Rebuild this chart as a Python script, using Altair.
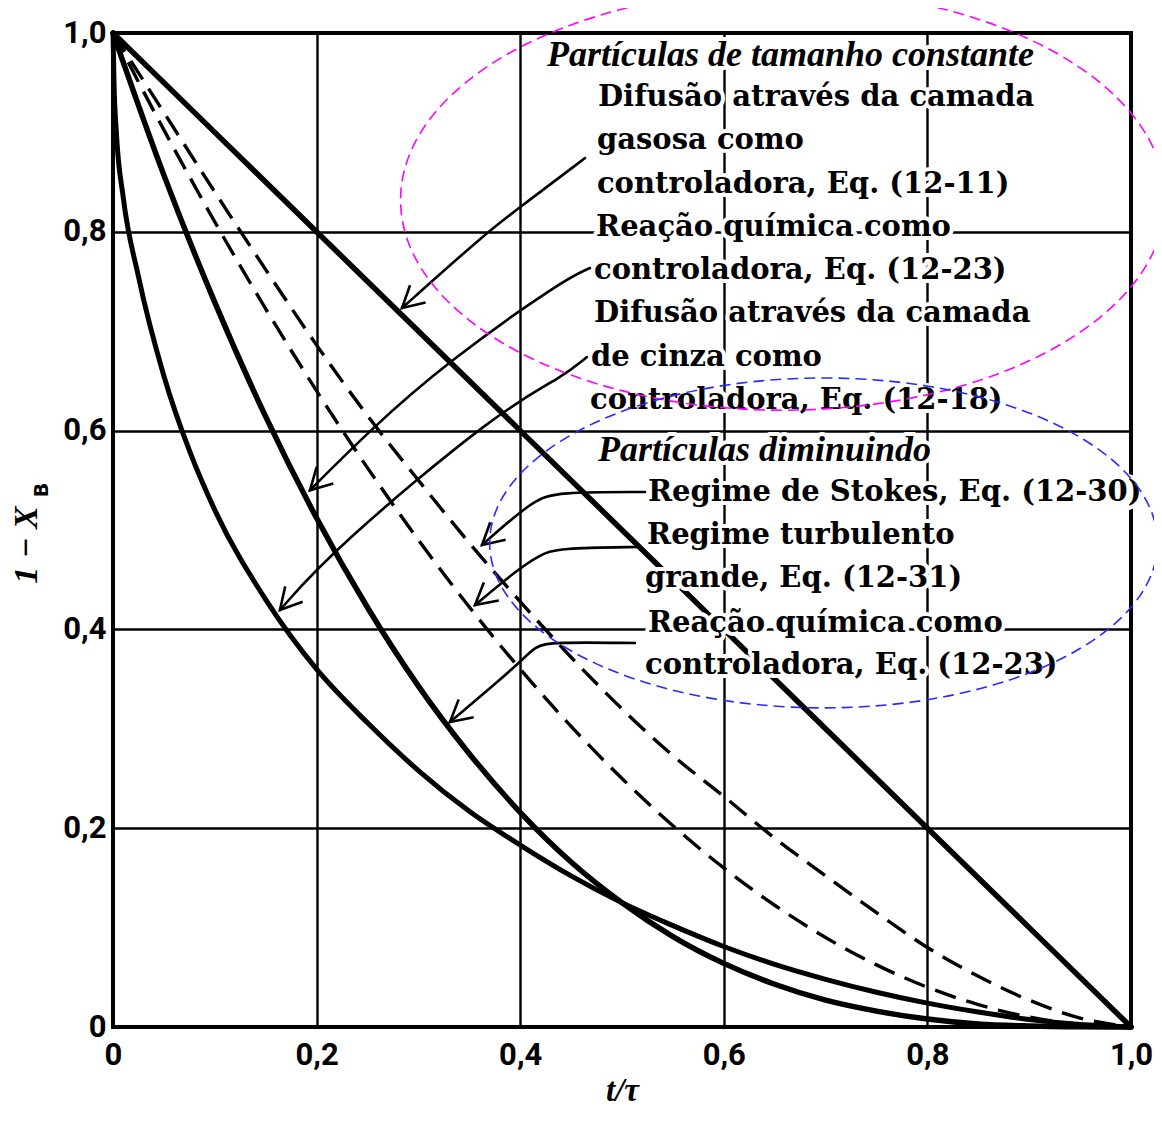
import math
import altair as alt
import pandas as pd

# ---------------- values ----------------
T_GRID = [0.0, 0.05, 0.1, 0.15, 0.2, 0.25, 0.3, 0.35, 0.4, 0.45, 0.5,
          0.55, 0.6, 0.65, 0.7, 0.75, 0.8, 0.85, 0.9, 0.95, 1.0]

# constant size: gas film diffusion controls (straight line)
GAS_T = [0.0, 0.2, 0.4, 0.6, 0.8, 1.0]
GAS_V = [1.0, 0.8, 0.6, 0.4, 0.2, 0.0]

# constant size / shrinking: chemical reaction controls
REACT_V = [1.0, 0.857, 0.729, 0.614, 0.512, 0.422, 0.343, 0.275, 0.216, 0.166, 0.125,
           0.091, 0.064, 0.043, 0.027, 0.016, 0.008, 0.003, 0.001, 0.0002, 0.0]

# constant size: ash layer diffusion controls
ASH_T = [0.0, 0.001, 0.0033, 0.01, 0.025, 0.05, 0.075, 0.1, 0.15, 0.2, 0.25, 0.3, 0.35,
         0.4, 0.45, 0.5, 0.55, 0.6, 0.65, 0.7, 0.75, 0.8, 0.85, 0.9, 0.95, 1.0]
ASH_V = [1.0, 0.95, 0.90, 0.835, 0.755, 0.655, 0.58, 0.52, 0.43, 0.36, 0.306, 0.258, 0.217,
         0.183, 0.152, 0.125, 0.102, 0.081, 0.063, 0.048, 0.035, 0.024, 0.015, 0.0075, 0.0025, 0.0]

# shrinking particles: Stokes regime (dashed)
STOKES_V = [1.0, 0.92, 0.84, 0.762, 0.686, 0.615, 0.55, 0.487, 0.428, 0.372, 0.32,
            0.273, 0.232, 0.19, 0.152, 0.115, 0.08, 0.051, 0.027, 0.009, 0.0]

# shrinking particles: large turbulent regime (dashed)
TURB_V = [1.0, 0.9025, 0.81, 0.7225, 0.64, 0.5625, 0.49, 0.4225, 0.36, 0.3025, 0.25,
          0.2025, 0.16, 0.1225, 0.09, 0.0625, 0.04, 0.0225, 0.01, 0.0025, 0.0]

TICKS = [0.0, 0.2, 0.4, 0.6, 0.8, 1.0]
TICK_LABELS = ["0", "0,2", "0,4", "0,6", "0,8", "1,0"]

# annotation text lines (left edge t, centre v)
ANNOT_TEXT = ["Partículas de tamanho constante",
              "Difusão através da camada", "gasosa como", "controladora, Eq. (12-11)",
              "Reação química como", "controladora, Eq. (12-23)",
              "Difusão através da camada", "de cinza como", "controladora, Eq. (12-18)",
              "Partículas diminuindo",
              "Regime de Stokes, Eq. (12-30)", "Regime turbulento", "grande, Eq. (12-31)",
              "Reação química como", "controladora, Eq. (12-23)"]
ANNOT_T = [0.4263, 0.4764, 0.4754, 0.4754, 0.4745, 0.4725, 0.4725, 0.4695, 0.4686,
           0.4764, 0.5255, 0.5246, 0.5226, 0.5255, 0.5226]
ANNOT_V = [0.9779, 0.9356, 0.8924, 0.8481, 0.8048, 0.7616, 0.7183, 0.6740, 0.6308,
           0.5805, 0.5382, 0.4950, 0.4517, 0.4064, 0.3642]
ANNOT_ITALIC = [True, False, False, False, False, False, False, False, False,
                True, False, False, False, False, False]

# annotation arrows: path points (t, v), the last one is the tip
ARROWS = [
    [(0.4637, 0.8742), (0.4028, 0.8270), (0.3674, 0.7998), (0.2839, 0.7233)],
    [(0.4686, 0.7636), (0.4420, 0.7515), (0.3270, 0.6680), (0.2525, 0.6006), (0.1935, 0.5400)],
    [(0.4656, 0.6740), (0.4420, 0.6540), (0.3800, 0.6210), (0.2160, 0.4800), (0.1640, 0.4195)],
    [(0.5226, 0.5382), (0.4361, 0.5382), (0.4126, 0.5300), (0.3625, 0.4849)],
    [(0.5177, 0.4829), (0.4361, 0.4819), (0.4194, 0.4748), (0.3969, 0.4598), (0.3556, 0.4245)],
    [(0.5128, 0.3863), (0.4322, 0.3873), (0.4145, 0.3833), (0.3998, 0.3662), (0.3310, 0.3068)],
]

# highlight ellipses: centre (t, v), width in t-units, height/width ratio, colour
ELL_T = [0.658, 0.698]
ELL_V = [0.832, 0.487]
ELL_W = [0.751, 0.656]
ELL_RATIO = [0.55, 0.494]
ELL_COLOR = ["#ff00ff", "#2a2aff"]

# ---------------- layout / style ----------------
W, H = 1018, 994
SERIF = "DejaVu Serif"
ITAL = "Liberation Serif"
SANS = "Roboto, DejaVu Sans"

XS = alt.Scale(domain=[0, 1], nice=False, zero=False)
YS = alt.Scale(domain=[0, 1], nice=False, zero=False)


def label_expr(vals, labs):
    expr = "''"
    for v, l in reversed(list(zip(vals, labs))):
        expr = f"abs(datum.value - {v}) < 1e-6 ? '{l}' : ({expr})"
    return expr


common_axis = dict(grid=True, gridColor="black", gridOpacity=1, gridWidth=2.4,
                   ticks=False, domain=False, labelFont=SANS, labelFontSize=31,
                   labelFontWeight="bold", labelColor="black", labelFlush=False,
                   labelOverlap=False, values=TICKS,
                   labelExpr=label_expr(TICKS, TICK_LABELS))
XAXIS = alt.Axis(labelPadding=13, title="t/τ", titleFont=ITAL, titleFontStyle="italic",
                 titleFontWeight="bold", titleFontSize=33, titleColor="black",
                 titlePadding=4, **common_axis)
YAXIS = alt.Axis(labelPadding=7, title=None, **common_axis)


def xe():
    return alt.X("t:Q", scale=XS, axis=XAXIS)


def ye():
    return alt.Y("v:Q", scale=YS, axis=YAXIS)


def curve_df(ts, vs):
    return pd.DataFrame({"t": ts, "v": vs})


layers = []

solid_specs = [(GAS_T, GAS_V, 5.5), (T_GRID, REACT_V, 5.5), (ASH_T, ASH_V, 5.0)]
for ts, vs, sw in solid_specs:
    layers.append(alt.Chart(curve_df(ts, vs)).mark_line(
        color="black", strokeWidth=sw, interpolate="monotone", strokeCap="round"
    ).encode(x=xe(), y=ye()))

for vs in (STOKES_V, TURB_V):
    layers.append(alt.Chart(curve_df(T_GRID, vs)).mark_line(
        color="black", strokeWidth=3.4, strokeDash=[22, 11], interpolate="monotone"
    ).encode(x=xe(), y=ye()))

# arrows
rows, heads = [], []
for k, pts in enumerate(ARROWS):
    for i, (t, v) in enumerate(pts):
        rows.append({"arrow": k, "i": i, "t": t, "v": v})
    (t1, v1), (t2, v2) = pts[-2], pts[-1]
    dx = (t2 - t1) * W
    dy = -(v2 - v1) * H
    ang = math.degrees(math.atan2(dy, dx)) % 360
    heads.append({"t": t2, "v": v2, "ang": ang})
arrow_df = pd.DataFrame(rows)
head_df = pd.DataFrame(heads)

layers.append(alt.Chart(arrow_df).mark_line(
    color="black", strokeWidth=2.6, interpolate="basis", strokeCap="round"
).encode(x=xe(), y=ye(), detail="arrow:N", order=alt.Order("i:Q")))

HEAD_PATH = "M -1 -0.55 L 0 0 L -1 0.55"
layers.append(alt.Chart(head_df).mark_point(
    shape=HEAD_PATH, filled=False, stroke="black", strokeWidth=2.6, size=1800, opacity=1
).encode(x=xe(), y=ye(), angle=alt.Angle("ang:Q", scale=None)))

# annotation text with white halo
text_df = pd.DataFrame({"t": ANNOT_T, "v": ANNOT_V, "label": ANNOT_TEXT, "it": ANNOT_ITALIC})
up_df = text_df[~text_df["it"]]
it_df = text_df[text_df["it"]]

for df, font, size, style in ((up_df, SERIF, 29, "normal"), (it_df, ITAL, 36, "italic")):
    layers.append(alt.Chart(df).mark_text(
        align="left", baseline="middle", font=font, fontSize=size, fontStyle=style,
        fontWeight="bold", fill="white", stroke="white", strokeWidth=8, strokeJoin="round"
    ).encode(x=xe(), y=ye(), text="label:N"))
    layers.append(alt.Chart(df).mark_text(
        align="left", baseline="middle", font=font, fontSize=size, fontStyle=style,
        fontWeight="bold", color="black"
    ).encode(x=xe(), y=ye(), text="label:N"))

# ellipses
K = 0.5523
for cx, cy, w, r, col in zip(ELL_T, ELL_V, ELL_W, ELL_RATIO, ELL_COLOR):
    kr = K * r
    path = (f"M 1 0 C 1 {kr:.4f} {K} {r} 0 {r} "
            f"C {-K} {r} -1 {kr:.4f} -1 0 "
            f"C -1 {-kr:.4f} {-K} {-r} 0 {-r} "
            f"C {K} {-r} 1 {-kr:.4f} 1 0 Z")
    size = (w * W) ** 2
    layers.append(alt.Chart(pd.DataFrame({"t": [cx], "v": [cy]})).mark_point(
        shape=path, filled=False, stroke=col, strokeWidth=1.6, strokeDash=[11, 6],
        size=size, opacity=1
    ).encode(x=xe(), y=ye()))

# y-axis title "1 − X_B"
layers.append(alt.Chart(pd.DataFrame({"label": ["1 − X"]})).mark_text(
    angle=270, align="center", baseline="middle", font=ITAL, fontStyle="italic",
    fontWeight="bold", fontSize=34, color="black"
).encode(x=alt.value(-86), y=alt.value(512), text="label:N"))
layers.append(alt.Chart(pd.DataFrame({"label": ["B"]})).mark_text(
    angle=270, align="center", baseline="middle", font="DejaVu Sans", fontWeight="bold",
    fontSize=19, color="black"
).encode(x=alt.value(-71), y=alt.value(457), text="label:N"))

chart = alt.layer(*layers).properties(
    width=W, height=H,
    autosize=alt.AutoSizeParams(type="none"),
    padding={"left": 105, "top": 25, "right": 23, "bottom": 82},
).configure_view(stroke="black", strokeWidth=4)

chart.save("out.html", embed_options={"renderer": "svg", "actions": False})
